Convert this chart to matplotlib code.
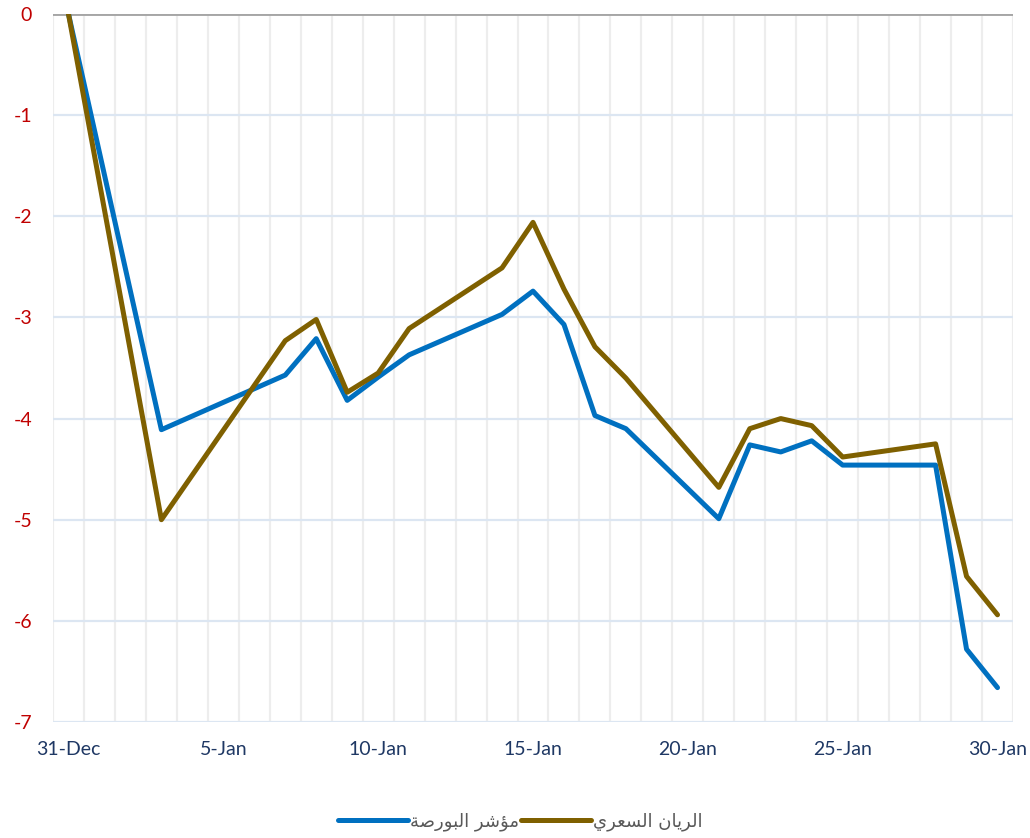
import matplotlib
matplotlib.use("Agg")
import matplotlib.pyplot as plt
import pandas as pd

# data
dates = ["2017-12-31", "2018-01-03", "2018-01-07", "2018-01-08", "2018-01-09",
         "2018-01-10", "2018-01-11", "2018-01-14", "2018-01-15", "2018-01-16",
         "2018-01-17", "2018-01-18", "2018-01-21", "2018-01-22", "2018-01-23",
         "2018-01-24", "2018-01-25", "2018-01-28", "2018-01-29", "2018-01-30"]
index_vals = [0, -4.11, -3.57, -3.21, -3.82, -3.59, -3.37, -2.97, -2.74, -3.07,
              -3.97, -4.10, -4.99, -4.26, -4.33, -4.22, -4.46, -4.46, -6.28, -6.66]
rayan_vals = [0, -5.00, -3.23, -3.02, -3.74, -3.55, -3.11, -2.51, -2.06, -2.72,
              -3.29, -3.60, -4.68, -4.10, -4.00, -4.07, -4.38, -4.25, -5.56, -5.94]
label_index = "مؤشر البورصة"
label_rayan = "الريان السعري"
yticks = [0, -1, -2, -3, -4, -5, -6, -7]


# matplotlib has no arabic shaping: map to presentation forms, reverse order
FORMS = {"ا": (0xFE8D, False), "ب": (0xFE8F, True), "ة": (0xFE93, False),
         "ر": (0xFEAD, False), "س": (0xFEB1, True), "ش": (0xFEB5, True),
         "ص": (0xFEB9, True), "ع": (0xFEC9, True), "ل": (0xFEDD, True),
         "م": (0xFEE1, True), "ن": (0xFEE5, True), "و": (0xFEED, False),
         "ؤ": (0xFE85, False), "ي": (0xFEF1, True)}


def shape(s):
    out = []
    for i, ch in enumerate(s):
        if ch not in FORMS:
            out.append(ch)
            continue
        base, dual = FORMS[ch]
        prev = s[i - 1] if i > 0 else ""
        nxt = s[i + 1] if i + 1 < len(s) else ""
        jp = prev in FORMS and FORMS[prev][1]
        jn = dual and nxt in FORMS
        off = 3 if (jp and jn) else 2 if jn else 1 if jp else 0
        out.append(chr(base + off))
    return "".join(out)[::-1]


start = pd.Timestamp(dates[0])
x = [(pd.Timestamp(d) - start).days for d in dates]

plt.rcParams["font.family"] = ["Lato", "DejaVu Sans"]

fig = plt.figure(figsize=(10.30, 8.38), dpi=100)
ax = fig.add_axes([53 / 1030, 1 - 722 / 838, 960 / 1030, 708 / 838])

ax.plot(x, index_vals, color="#0070C0", lw=3.6, label=shape(label_index),
        solid_joinstyle="round", solid_capstyle="round", zorder=3)
ax.plot(x, rayan_vals, color="#7F6000", lw=3.6, label=shape(label_rayan),
        solid_joinstyle="round", solid_capstyle="round", zorder=3)

ax.set_xlim(-0.5, 30.5)
ax.set_ylim(-7, 0)
ax.set_yticks(yticks)
ax.set_yticklabels([str(v) for v in yticks])
ax.set_xticks(range(0, 31, 5))
ax.set_xticklabels([(start + pd.Timedelta(days=d)).strftime("%d-%b").lstrip("0")
                    for d in range(0, 31, 5)])
ax.set_xticks([k + 0.5 for k in range(-1, 31)], minor=True)

ax.grid(axis="y", color="#DCE6F2", lw=1.6, zorder=0)
ax.grid(axis="x", which="minor", color="#EDEDED", lw=1.6, zorder=0)
ax.axhline(0, color="#A6A6A6", lw=2.8, zorder=2)
for s in ax.spines.values():
    s.set_visible(False)

ax.tick_params(axis="y", length=0, pad=15, labelsize=14, labelcolor="#C00000")
ax.tick_params(axis="x", which="major", length=0, pad=14, labelsize=14,
               labelcolor="#1F3864")
ax.tick_params(axis="x", which="minor", length=0)

ax.legend(loc="center", bbox_to_anchor=(520 / 1030, 1 - 822 / 838),
          bbox_transform=fig.transFigure, ncol=2, frameon=False,
          prop={"family": ["DejaVu Sans"], "size": 13}, labelcolor="#595959",
          handlelength=3.9, handletextpad=0.1, columnspacing=0.1)

fig.savefig("out.png", dpi=100)
